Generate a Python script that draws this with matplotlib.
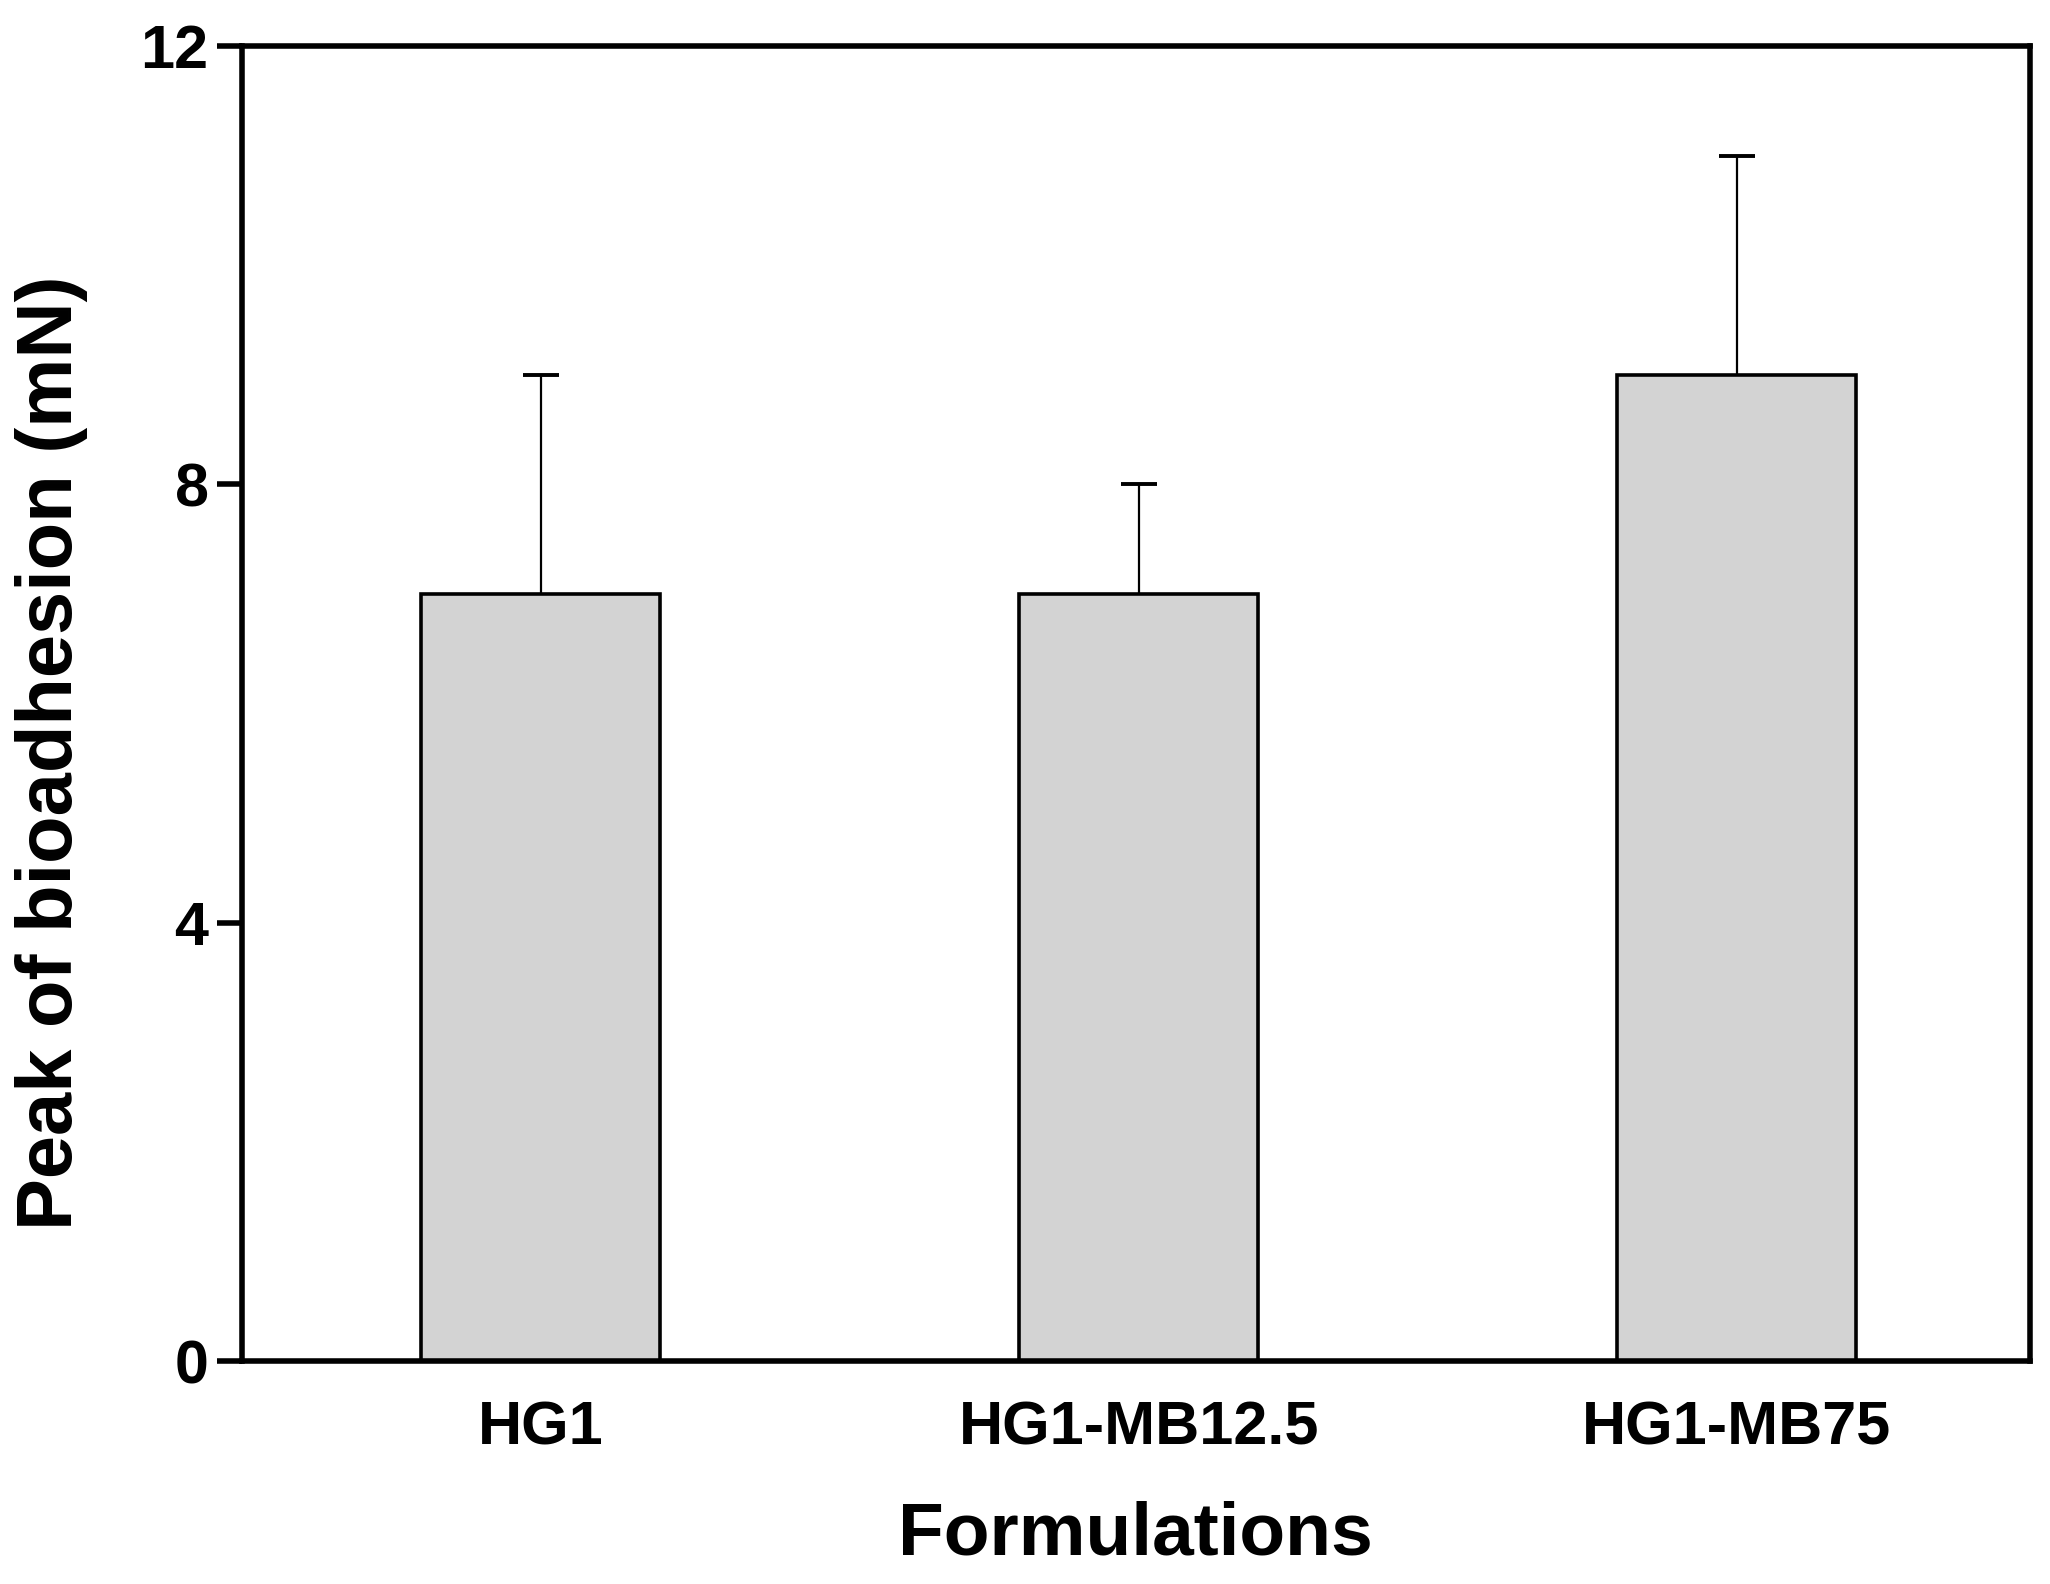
import matplotlib.pyplot as plt
import numpy as np

# ---- Data ------------------------------------------------------------
formulations = ['HG1', 'HG1-MB12.5', 'HG1-MB75']
peak_mn      = [7.0, 7.0, 9.0]
peak_sd      = [2.0, 1.0, 2.0]

y_ticks = [0, 4, 8, 12]

FONT = ['Liberation Sans', 'DejaVu Sans']

fig = plt.figure(figsize=(10.25, 7.92), dpi=200)
ax = fig.add_axes([0.118, 0.1405, 0.872, 0.8305])

x = np.arange(len(formulations))
ax.bar(x, peak_mn, width=0.4, color='#d3d3d3', edgecolor='black',
       linewidth=1.3, zorder=2)
_, caps, _ = ax.errorbar(x, peak_mn, yerr=[np.zeros(len(peak_sd)), peak_sd],
                         fmt='none', ecolor='black', elinewidth=0.8,
                         capsize=6.5, capthick=1.4, zorder=1)
# only the upper caps are drawn in the original
caps[0].set_visible(False)

ax.set_xlim(-0.5, 2.49)
ax.set_ylim(0, 12)
ax.set_yticks(y_ticks)
ax.set_xticks(x)
ax.set_xticklabels(formulations)

for s in ax.spines.values():
    s.set_linewidth(2.0)

ax.tick_params(axis='y', direction='out', length=9, width=2.0, pad=3)
ax.tick_params(axis='x', length=0, pad=14)
for lab in ax.get_yticklabels() + ax.get_xticklabels():
    lab.set_family(FONT)
    lab.set_fontweight('bold')
    lab.set_fontsize(22)

ax.set_xlabel('Formulations', family=FONT, fontweight='bold', fontsize=27)
ax.xaxis.set_label_coords(0.5, -0.106)
ax.set_ylabel('Peak of bioadhesion (mN)', family=FONT, fontweight='bold',
              fontsize=28)
ax.yaxis.set_label_coords(-0.086, 0.463)

fig.savefig('out.png', dpi=200)
